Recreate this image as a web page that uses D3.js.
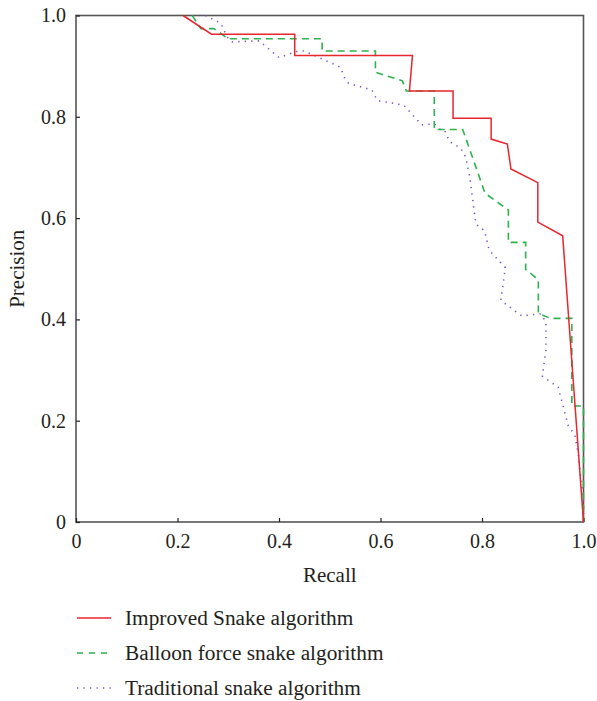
<!DOCTYPE html>
<html><head><meta charset="utf-8">
<script src="https://cdn.jsdelivr.net/npm/d3@7/dist/d3.min.js"></script>
<style>body{margin:0;background:#fff}svg{display:block}text{font-family:"Liberation Serif","Times New Roman",serif;fill:#231f20}</style>
</head><body><svg id="c" width="597" height="701"></svg>
<script>
const xTicks = [0, 0.2, 0.4, 0.6, 0.8, 1.0];
const xTickLabels = ["0", "0.2", "0.4", "0.6", "0.8", "1.0"];
const yTicks = [0, 0.2, 0.4, 0.6, 0.8, 1.0];
const yTickLabels = ["0", "0.2", "0.4", "0.6", "0.8", "1.0"];
const seriesNames = ["Improved Snake algorithm", "Balloon force snake algorithm", "Traditional snake algorithm"];

const improvedRecall = [0.211,0.267,0.431,0.431,0.663,0.657,0.743,0.743,0.818,0.818,0.850,0.857,0.910,0.910,0.959,1.0];
const improvedPrecision = [1.0,0.963,0.963,0.921,0.921,0.851,0.851,0.797,0.797,0.756,0.746,0.697,0.670,0.592,0.565,0.0];

const balloonRecall = [0.229,0.246,0.272,0.300,0.485,0.485,0.590,0.590,0.643,0.651,0.706,0.706,0.762,0.806,0.852,0.852,0.886,0.886,0.911,0.911,0.935,0.977,0.977,1.0,1.0];
const balloonPrecision = [1.0,0.974,0.974,0.954,0.954,0.930,0.930,0.888,0.871,0.851,0.851,0.775,0.775,0.649,0.616,0.552,0.552,0.499,0.478,0.412,0.402,0.402,0.229,0.229,0.0];

const traditionalRecall = [0.255,0.285,0.292,0.300,0.308,0.361,0.400,0.438,0.450,0.521,0.530,0.537,0.583,0.594,0.646,0.681,0.706,0.716,0.726,0.736,0.745,0.758,0.768,0.776,0.788,0.805,0.814,0.846,0.837,0.847,0.878,0.916,0.926,0.926,0.919,0.950,0.970,0.983,0.990,0.995,1.0,1.0];
const traditionalPrecision = [1.0,0.985,0.970,0.954,0.948,0.950,0.917,0.930,0.930,0.898,0.875,0.866,0.853,0.832,0.823,0.784,0.786,0.776,0.774,0.751,0.746,0.738,0.720,0.680,0.588,0.575,0.537,0.502,0.438,0.430,0.407,0.411,0.395,0.340,0.288,0.266,0.190,0.172,0.132,0.080,0.050,0.0];

const svg = d3.select("#c");
const L = 76, R = 583.5, T = 15.5, B = 522;
const x = d3.scaleLinear().domain([0, 1]).range([L, R]);
const y = d3.scaleLinear().domain([0, 1]).range([B, T]);
const axisColor = "#555";

svg.append("rect").attr("x", L).attr("y", T).attr("width", R - L).attr("height", B - T)
  .attr("fill", "none").attr("stroke", axisColor).attr("stroke-width", 1.6);

const gx = svg.append("g").attr("transform", `translate(0,${B})`)
  .call(d3.axisBottom(x).tickValues(xTicks).tickFormat((d, i) => xTickLabels[i]).tickSizeInner(-4).tickSizeOuter(0).tickPadding(12));
gx.select(".domain").remove();
gx.selectAll("line").attr("stroke", "#222").attr("stroke-width", 1.2);
gx.selectAll("text").style("font-size", "20px").style("font-family", "Liberation Serif").attr("fill", "#231f20");

const gy = svg.append("g").attr("transform", `translate(${L},0)`)
  .call(d3.axisLeft(y).tickValues(yTicks).tickFormat((d, i) => yTickLabels[i]).tickSizeInner(-4).tickSizeOuter(0).tickPadding(10));
gy.select(".domain").remove();
gy.selectAll("line").attr("stroke", "#222").attr("stroke-width", 1.2);
gy.selectAll("text").style("font-size", "20px").style("font-family", "Liberation Serif").attr("fill", "#231f20");

svg.append("text").attr("x", (L + R) / 2).attr("y", 582).attr("text-anchor", "middle")
  .style("font-size", "21px").text("Recall");
svg.append("text").attr("transform", `translate(24,${(T + B) / 2}) rotate(-90)`).attr("text-anchor", "middle")
  .style("font-size", "21px").text("Precision");

const line = d3.line().x(d => x(d[0])).y(d => y(d[1]));
const styles = [
  {color: "#e8262d", dash: null, w: 1.5},
  {color: "#2db34e", dash: "7,5", w: 1.6},
  {color: "#7b52c8", dash: "1.3,5.2", w: 1.6}
];
const data = [
  d3.zip(improvedRecall, improvedPrecision),
  d3.zip(balloonRecall, balloonPrecision),
  d3.zip(traditionalRecall, traditionalPrecision)
];
[2, 1, 0].forEach(i => {
  svg.append("path").datum(data[i]).attr("d", line).attr("fill", "none")
    .attr("stroke", styles[i].color).attr("stroke-width", styles[i].w)
    .attr("stroke-dasharray", styles[i].dash);
});

const legY = [618, 653, 688];
seriesNames.forEach((n, i) => {
  svg.append("line").attr("x1", 77).attr("x2", 111).attr("y1", legY[i]).attr("y2", legY[i])
    .attr("stroke", styles[i].color).attr("stroke-width", styles[i].w)
    .attr("stroke-dasharray", i === 1 ? "6,6" : styles[i].dash);
  svg.append("text").attr("x", 125).attr("y", legY[i]).attr("dy", "0.35em")
    .style("font-size", "21.3px").text(n);
});
</script></body></html>
